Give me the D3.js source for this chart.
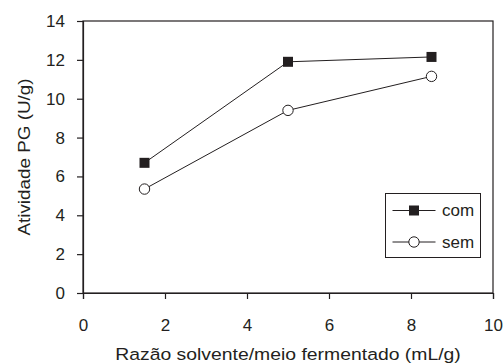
<!DOCTYPE html>
<html>
<head>
<meta charset="utf-8">
<script src="https://cdn.jsdelivr.net/npm/d3@7"></script>
<style>
  body { margin: 0; background: #fff; }
  text { font-family: "Liberation Sans", Arial, sans-serif; fill: #231f20; }
</style>
</head>
<body>
<div id="chart"></div>
<script>
var ratios = [1.5, 5, 8.5];
var comValues = [6.7, 11.9, 12.15];
var semValues = [5.35, 9.4, 11.15];
var seriesNames = ['com', 'sem'];
var xTicks = [0, 2, 4, 6, 8, 10];
var yTicks = [0, 2, 4, 6, 8, 10, 12, 14];

var width = 504;
var height = 363;

var margin = {
    top: 21,
    bottom: 70,
    left: 83,
    right: 11
};

var innerW = width - margin.left - margin.right;
var innerH = height - margin.top - margin.bottom;

var ink = '#231f20';
var fontSize = '17px';

var x = d3.scaleLinear().domain([0, 10]).range([0, innerW]);
var y = d3.scaleLinear().domain([0, 14]).range([innerH, 0]);

var svg = d3.select('#chart')
    .append('svg')
    .attr('width', width)
    .attr('height', height)
    .append('g')
    .attr('transform', 'translate(' + margin.left + ',' + margin.top + ')');

// frame
svg.append('rect')
    .attr('x', 0)
    .attr('y', 0)
    .attr('width', innerW)
    .attr('height', innerH)
    .style('fill', 'none')
    .style('stroke', ink)
    .style('stroke-width', 1.2);

var xAxis = svg.append('g')
    .attr('transform', 'translate(0,' + innerH + ')')
    .call(d3.axisBottom(x).tickValues(xTicks).tickSize(6).tickPadding(20));

var yAxis = svg.append('g')
    .call(d3.axisLeft(y).tickValues(yTicks).tickSize(6).tickPadding(12));

[xAxis, yAxis].forEach(function(a) {
    a.select('.domain').style('stroke', ink).style('stroke-width', 1.2);
    a.selectAll('.tick line').style('stroke', ink).style('stroke-width', 1.2);
    a.selectAll('.tick text')
        .style('font-size', fontSize)
        .style('font-family', '"Liberation Sans", Arial, sans-serif')
        .style('fill', ink);
});

// axis titles, glyphs are a bit wider in the original
svg.append('text')
    .attr('transform', 'translate(' + (innerW / 2) + ',' + (innerH + 66.5) + ') scale(1.14,1)')
    .attr('text-anchor', 'middle')
    .style('font-size', fontSize)
    .text('Razão solvente/meio fermentado (mL/g)');

svg.append('text')
    .attr('transform', 'translate(' + (-53.5) + ',' + (innerH / 2) + ') rotate(-90) scale(1.11,1)')
    .attr('text-anchor', 'middle')
    .style('font-size', fontSize)
    .text('Atividade PG (U/g)');

var series = [
    { key: 'com', values: comValues },
    { key: 'sem', values: semValues }
];

var line = d3.line()
    .x(function(d) { return x(d.x); })
    .y(function(d) { return y(d.y); });

function drawMarker(sel, key) {
    if (key === 'com') {
        sel.append('rect')
            .attr('x', -5)
            .attr('y', -5)
            .attr('width', 10)
            .attr('height', 10)
            .style('fill', ink);
    } else {
        sel.append('circle')
            .attr('r', 5.2)
            .style('fill', '#fff')
            .style('stroke', ink)
            .style('stroke-width', 1);
    }
}

series.forEach(function(s) {
    var pts = ratios.map(function(r, i) {
        return { x: r, y: s.values[i] };
    });

    svg.append('path')
        .datum(pts)
        .attr('d', line)
        .style('fill', 'none')
        .style('stroke', ink)
        .style('stroke-width', 1);

    svg.selectAll('g.pt-' + s.key)
        .data(pts)
        .enter()
        .append('g')
        .attr('class', 'pt-' + s.key)
        .attr('transform', function(d) {
            return 'translate(' + x(d.x) + ',' + y(d.y) + ')';
        })
        .each(function() { drawMarker(d3.select(this), s.key); });
});

// legend
var legend = svg.append('g')
    .attr('transform', 'translate(' + (385.5 - margin.left) + ',' + (193.5 - margin.top) + ')');

legend.append('rect')
    .attr('width', 95)
    .attr('height', 64)
    .style('fill', '#fff')
    .style('stroke', ink)
    .style('stroke-width', 1);

seriesNames.forEach(function(name, i) {
    var row = legend.append('g')
        .attr('transform', 'translate(0,' + (17 + i * 31.5) + ')');

    row.append('line')
        .attr('x1', 7)
        .attr('x2', 50)
        .style('stroke', ink)
        .style('stroke-width', 1);

    var m = row.append('g').attr('transform', 'translate(28.5,0)');
    drawMarker(m, name);

    row.append('text')
        .attr('x', 56.5)
        .attr('dy', '0.35em')
        .style('font-size', fontSize)
        .text(name);
});
</script>
</body>
</html>
